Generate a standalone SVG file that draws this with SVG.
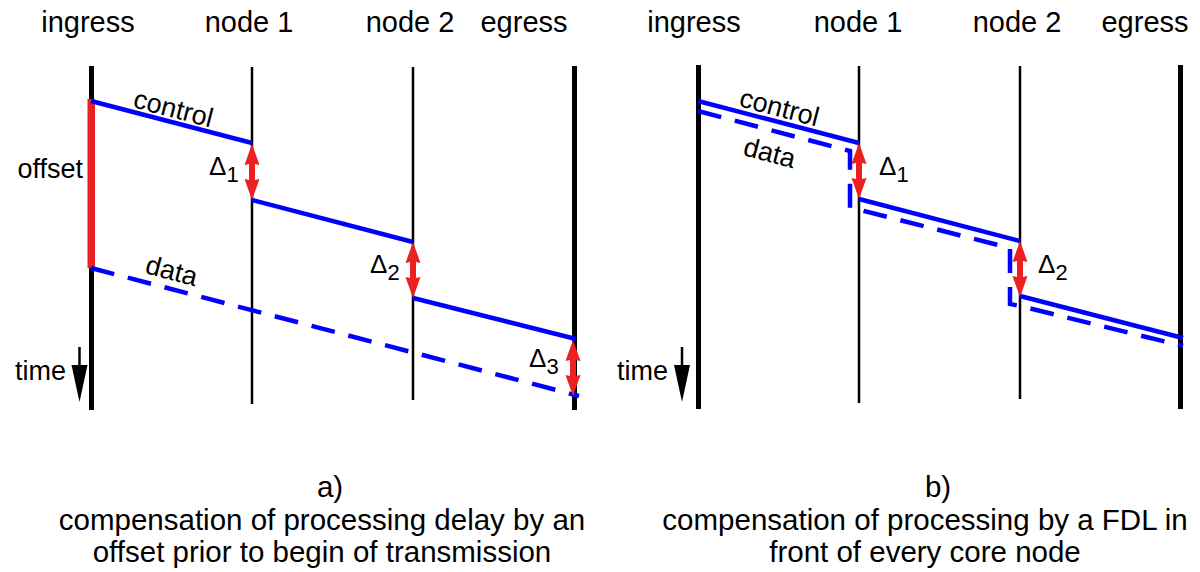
<svg xmlns="http://www.w3.org/2000/svg" xmlns:xlink="http://www.w3.org/1999/xlink" width="1200" height="572" viewBox="0 0 1200 572">
  <style>
    text { font-family: "Liberation Sans", Arial, sans-serif; fill: #000; }
    .hdr { font-size: 29px; text-anchor: middle; }
    .lbl { font-size: 27px; }
    .cap { font-size: 29.5px; text-anchor: middle; }
    .delta { font-size: 26px; }
    .sub { font-size: 22px; }
    .edge { stroke: #000; stroke-width: 5; }
    .core { stroke: #000; stroke-width: 2.5; }
    .ctrl { fill: none; stroke: #0000ff; stroke-width: 4.5; }
    .data { fill: none; stroke: #0000ff; stroke-width: 4.5; stroke-dasharray: 24 14; }
    .delay { fill: #ec2020; }
  </style>
  <defs>
    <!-- double-headed delay arrow, 56px tall, anchored at its top tip -->
    <path id="dbl" d="M0,0 L7.5,21 L3,20 L3,36 L7.5,35 L0,56 L-7.5,35 L-3,36 L-3,20 L-7.5,21 Z"/>
    <!-- downward time arrow -->
    <g id="timeArrow">
      <line x1="0" y1="0" x2="0" y2="20" stroke="#000" stroke-width="2.5"/>
      <polygon points="-8,18 8,18 0,55" fill="#000"/>
    </g>
  </defs>

  <!-- ===== panel a ===== -->
  <g id="a-ingress">
    <line class="edge" x1="91.5" y1="66" x2="91.5" y2="410"/>
    <rect x="87.5" y="99" width="7.5" height="169" fill="#ec2020"/>
    <text class="hdr" x="88" y="32">ingress</text>
  </g>
  <g id="a-node1">
    <line class="core" x1="252" y1="67" x2="252" y2="404"/>
    <text class="hdr" x="249" y="32">node 1</text>
  </g>
  <g id="a-node2">
    <line class="core" x1="413" y1="67" x2="413" y2="400"/>
    <text class="hdr" x="410" y="32">node 2</text>
  </g>
  <g id="a-egress">
    <line class="edge" x1="574.5" y1="66" x2="574.5" y2="410"/>
    <text class="hdr" x="524" y="32">egress</text>
  </g>

  <g id="a-connectors">
    <polyline class="ctrl" points="91,101 252,143"/>
    <polyline class="ctrl" points="252,200 413,242"/>
    <polyline class="ctrl" points="413,298 576,339"/>
    <line class="data" x1="91" y1="268" x2="579" y2="396"/>
    <use xlink:href="#dbl" class="delay" x="252" y="144"/>
    <use xlink:href="#dbl" class="delay" x="413" y="242"/>
    <use xlink:href="#dbl" class="delay" x="573" y="340"/>
  </g>

  <g id="a-labels">
    <text class="lbl" transform="translate(132,107) rotate(14.6)">control</text>
    <text class="lbl" transform="translate(144,273) rotate(14.6)">data</text>
    <text class="lbl" x="83" y="178" text-anchor="end">offset</text>
    <text class="lbl" x="15" y="380">time</text>
    <use xlink:href="#timeArrow" x="79.5" y="347"/>
    <text x="209" y="175"><tspan class="delta">Δ</tspan><tspan class="sub" dy="7">1</tspan></text>
    <text x="370" y="273"><tspan class="delta">Δ</tspan><tspan class="sub" dy="7">2</tspan></text>
    <text x="529" y="367"><tspan class="delta">Δ</tspan><tspan class="sub" dy="7">3</tspan></text>
  </g>

  <g id="a-caption">
    <text class="cap" x="330" y="497">a)</text>
    <text class="cap" x="322" y="530">compensation of processing delay by an</text>
    <text class="cap" x="322" y="562">offset prior to begin of transmission</text>
  </g>

  <!-- ===== panel b ===== -->
  <g id="b-ingress">
    <line class="edge" x1="698.5" y1="65" x2="698.5" y2="409"/>
    <text class="hdr" x="694" y="32">ingress</text>
  </g>
  <g id="b-node1">
    <line class="core" x1="859" y1="66" x2="859" y2="403"/>
    <text class="hdr" x="858" y="32">node 1</text>
  </g>
  <g id="b-node2">
    <line class="core" x1="1020" y1="66" x2="1020" y2="399"/>
    <text class="hdr" x="1017" y="32">node 2</text>
  </g>
  <g id="b-egress">
    <line class="edge" x1="1180.5" y1="65" x2="1180.5" y2="409"/>
    <text class="hdr" x="1145" y="32">egress</text>
  </g>

  <g id="b-connectors">
    <polyline class="ctrl" points="698,101 859,143"/>
    <polyline class="ctrl" points="859,199 1020,241"/>
    <polyline class="ctrl" points="1020,296 1183,338"/>
    <polyline class="data" points="698,111 850,151 850,208 860,210 1010,248 1010,304 1020,306 1183,346"/>
    <use xlink:href="#dbl" class="delay" x="859" y="143"/>
    <use xlink:href="#dbl" class="delay" x="1020" y="241"/>
  </g>

  <g id="b-labels">
    <text class="lbl" transform="translate(738,106) rotate(14.6)">control</text>
    <text class="lbl" transform="translate(742,155) rotate(14.6)">data</text>
    <text class="lbl" x="617" y="380">time</text>
    <use xlink:href="#timeArrow" x="682" y="347"/>
    <text x="879" y="175"><tspan class="delta">Δ</tspan><tspan class="sub" dy="7">1</tspan></text>
    <text x="1038" y="273"><tspan class="delta">Δ</tspan><tspan class="sub" dy="7">2</tspan></text>
  </g>

  <g id="b-caption">
    <text class="cap" x="938" y="497">b)</text>
    <text class="cap" x="925" y="530">compensation of processing by a FDL in</text>
    <text class="cap" x="925" y="562">front of every core node</text>
  </g>
</svg>
